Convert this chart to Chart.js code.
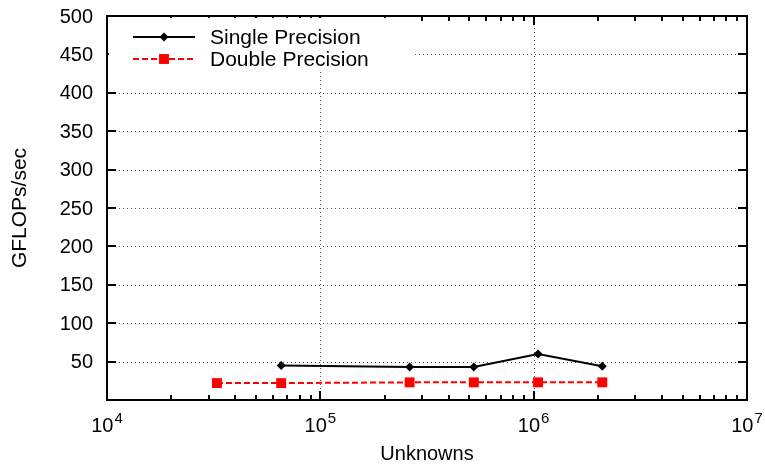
<!DOCTYPE html>
<html>
<head>
<meta charset="utf-8">
<script src="https://cdn.jsdelivr.net/npm/chart.js@4/dist/chart.umd.min.js"></script>
<style>
  html, body { margin: 0; padding: 0; background: #fff; }
  #wrap { width: 765px; height: 465px; }
</style>
</head>
<body>
<div id="wrap"><canvas id="perfChart" width="765" height="465"></canvas></div>
<script>
// problem sizes (unknowns) and measured throughput
const singleSizes = [65536, 262144, 524288, 1048576, 2097152];
const singleGflops = [45, 43, 43, 60, 44];
const doubleSizes = [32768, 65536, 262144, 524288, 1048576, 2097152];
const doubleGflops = [22, 22, 23, 23, 23, 23];

const yTicks = [50, 100, 150, 200, 250, 300, 350, 400, 450, 500];
const xDecades = [4, 5, 6, 7];

const FONT = '"Liberation Sans", Arial, Helvetica, sans-serif';

function toPoints(xs, ys) {
  return xs.map((x, i) => ({ x: x, y: ys[i] }));
}

// gnuplot-style frame: dotted grid, inward ticks, labels, boxed legend
const framePlugin = {
  id: 'frame',
  beforeDatasetsDraw(chart) {
    const ctx = chart.ctx;
    const a = chart.chartArea;
    const xs = chart.scales.x, ys = chart.scales.y;
    ctx.save();
    ctx.strokeStyle = '#555';
    ctx.lineWidth = 1;
    ctx.setLineDash([1, 3]);
    yTicks.forEach(v => {
      const y = Math.round(ys.getPixelForValue(v)) + 0.5;
      ctx.beginPath(); ctx.moveTo(a.left, y); ctx.lineTo(a.right, y); ctx.stroke();
    });
    xDecades.forEach(d => {
      const x = Math.round(xs.getPixelForValue(Math.pow(10, d))) + 0.5;
      ctx.beginPath(); ctx.moveTo(x, a.top); ctx.lineTo(x, a.bottom); ctx.stroke();
    });
    ctx.restore();
  },
  afterDatasetsDraw(chart) {
    const ctx = chart.ctx;
    const a = chart.chartArea;
    const xs = chart.scales.x, ys = chart.scales.y;
    ctx.save();
    ctx.setLineDash([]);
    ctx.strokeStyle = '#000';
    ctx.lineWidth = 2;

    // y ticks on both sides
    yTicks.forEach(v => {
      const y = Math.round(ys.getPixelForValue(v));
      ctx.beginPath();
      ctx.moveTo(a.left, y); ctx.lineTo(a.left + 9, y);
      ctx.moveTo(a.right, y); ctx.lineTo(a.right - 9, y);
      ctx.stroke();
    });

    // x ticks, major and minor, top and bottom
    for (let d = 4; d < 7; d++) {
      for (let m = 1; m <= 9; m++) {
        const x = Math.round(xs.getPixelForValue(m * Math.pow(10, d)));
        const len = m === 1 ? 9 : 5;
        ctx.beginPath();
        ctx.moveTo(x, a.bottom); ctx.lineTo(x, a.bottom - len);
        ctx.moveTo(x, a.top); ctx.lineTo(x, a.top + len);
        ctx.stroke();
      }
    }

    // legend box
    ctx.fillStyle = '#fff';
    ctx.fillRect(a.left + 2, a.top + 2, 306, 52);
    const entries = chart.data.datasets;
    entries.forEach((ds, i) => {
      const ly = 37 + i * 22;
      ctx.strokeStyle = ds.borderColor;
      ctx.lineWidth = 2;
      ctx.setLineDash(ds.borderDash || []);
      ctx.beginPath(); ctx.moveTo(133, ly); ctx.lineTo(195, ly); ctx.stroke();
      ctx.setLineDash([]);
      ctx.fillStyle = ds.pointBackgroundColor;
      Chart.helpers.drawPoint(ctx, {
        pointStyle: ds.pointStyle, radius: ds.pointRadius, borderWidth: 0, rotation: 0
      }, 164, ly);
      ctx.fillStyle = '#000';
      ctx.font = '21px ' + FONT;
      ctx.textAlign = 'left';
      ctx.textBaseline = 'middle';
      ctx.fillText(ds.label, 210, ly + 1);
    });

    // frame
    ctx.strokeStyle = '#000';
    ctx.lineWidth = 2;
    ctx.strokeRect(a.left, a.top, a.right - a.left, a.bottom - a.top);

    // y tick labels
    ctx.fillStyle = '#000';
    ctx.font = '20px ' + FONT;
    ctx.textAlign = 'right';
    ctx.textBaseline = 'middle';
    yTicks.forEach(v => {
      ctx.fillText(String(v), 93, ys.getPixelForValue(v) + 1);
    });

    // x tick labels as 10 with superscript exponent
    ctx.textBaseline = 'alphabetic';
    xDecades.forEach(d => {
      const x = xs.getPixelForValue(Math.pow(10, d));
      ctx.font = '20px ' + FONT;
      const base = ctx.measureText('10').width;
      ctx.font = '15px ' + FONT;
      const exp = ctx.measureText(String(d)).width;
      const start = x - (base + exp + 1) / 2;
      ctx.textAlign = 'left';
      ctx.font = '20px ' + FONT;
      ctx.fillText('10', start, 432);
      ctx.font = '15px ' + FONT;
      ctx.fillText(String(d), start + base + 1, 423);
    });

    // axis titles
    ctx.font = '20px ' + FONT;
    ctx.textAlign = 'center';
    ctx.fillText('Unknowns', (a.left + a.right) / 2, 460);
    ctx.save();
    ctx.font = '21px ' + FONT;
    ctx.translate(26, (a.top + a.bottom) / 2);
    ctx.rotate(-Math.PI / 2);
    ctx.fillText('GFLOPs/sec', 0, 0);
    ctx.restore();

    ctx.restore();
  }
};

new Chart(document.getElementById('perfChart'), {
  type: 'scatter',
  data: {
    datasets: [
      {
        label: 'Single Precision',
        data: toPoints(singleSizes, singleGflops),
        showLine: true,
        borderColor: '#000',
        borderWidth: 2,
        pointStyle: 'rectRot',
        pointRadius: 4.5,
        pointBackgroundColor: '#000',
        pointBorderWidth: 0
      },
      {
        label: 'Double Precision',
        data: toPoints(doubleSizes, doubleGflops),
        showLine: true,
        borderColor: '#ff0000',
        borderWidth: 2,
        borderDash: [6, 3],
        pointStyle: 'rect',
        pointRadius: 7,
        pointBackgroundColor: '#ff0000',
        pointBorderWidth: 0
      }
    ]
  },
  options: {
    responsive: false,
    animation: false,
    layout: { padding: { left: 107, top: 16, right: 18, bottom: 65 } },
    plugins: { legend: { display: false }, tooltip: { enabled: false } },
    scales: {
      x: { type: 'logarithmic', min: 1e4, max: 1e7, display: false },
      y: { type: 'linear', min: 0, max: 500, display: false }
    }
  },
  plugins: [framePlugin]
});
</script>
</body>
</html>
